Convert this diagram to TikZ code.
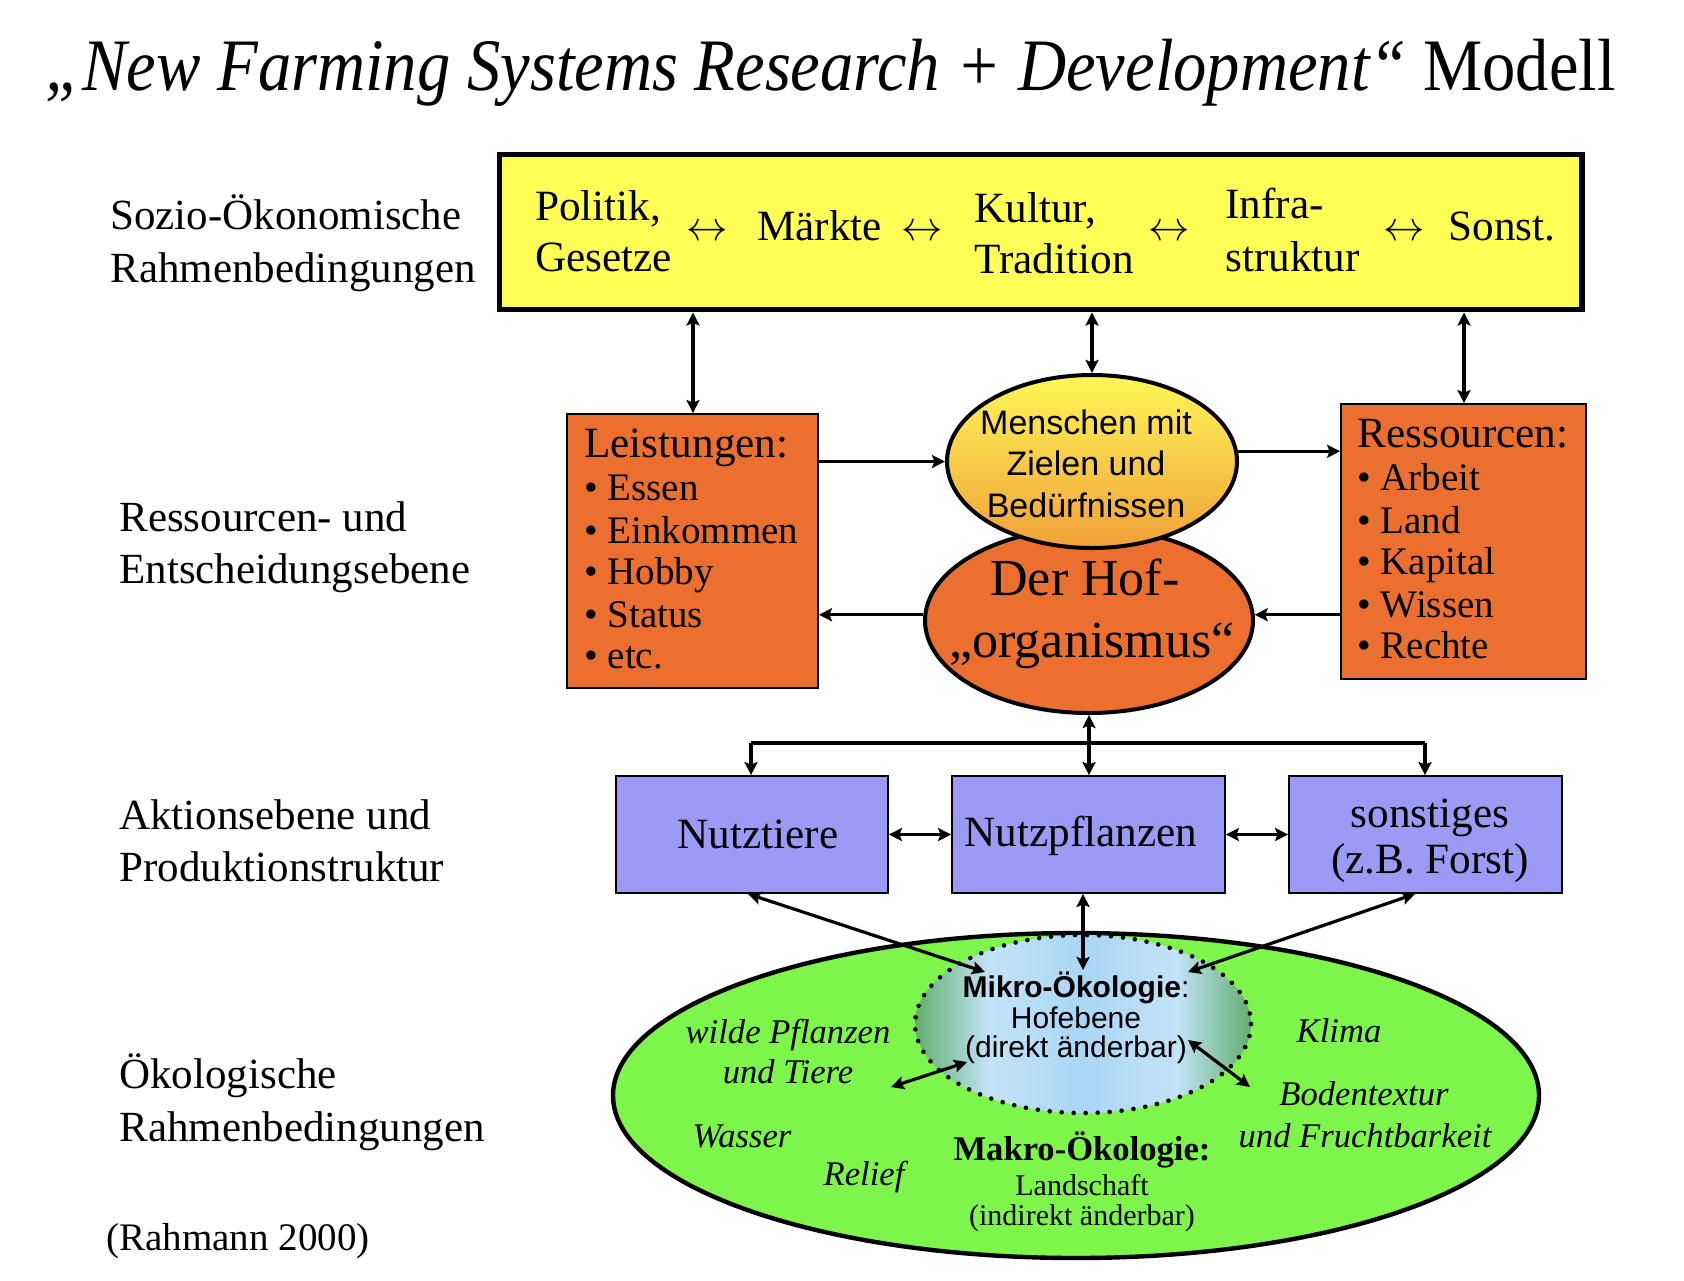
\documentclass[tikz,border=0pt]{standalone}
\usepackage{graphicx}
\usepackage{fontspec}
\setmainfont{Liberation Serif}
\setsansfont{Liberation Sans}
\usetikzlibrary{shapes.geometric,arrows.meta}
\definecolor{yelfill}{HTML}{FFFF55}
\definecolor{orfill}{HTML}{EB7030}
\definecolor{purfill}{HTML}{9B9BF5}
\definecolor{grfill}{HTML}{7DF54B}
\definecolor{mgreen}{HTML}{62AE6E}
\definecolor{mlblue}{HTML}{C2E3F8}
\definecolor{mblue}{HTML}{AAD6F5}
\definecolor{mtop}{HTML}{FFF757}
\definecolor{mbot}{HTML}{F0A038}
\pgfdeclarehorizontalshading{microshade}{100bp}{color(0bp)=(mgreen); color(25bp)=(mgreen); color(36bp)=(mlblue); color(50bp)=(mblue); color(64bp)=(mlblue); color(75bp)=(mgreen); color(100bp)=(mgreen)}
\newcommand\fLab{\fontsize{21.5}{26}\selectfont}
\newcommand\fBox{\fontsize{21.6}{25}\selectfont}
\newcommand\fItem{\fontsize{19.5}{22}\selectfont}
\newcommand\fSans{\sffamily\fontsize{17}{20}\selectfont}
\newcommand\fHof{\fontsize{26}{30}\selectfont}
\newcommand\fMic{\sffamily\fontsize{15}{15}\selectfont}
\newcommand\fIt{\itshape\fontsize{17.3}{19}\selectfont}
\newcommand\fMak{\fontsize{15}{15}\selectfont}
\begin{document}
\begin{tikzpicture}[x=0.5pt,y=-0.5pt,
  tl/.style={inner sep=0pt, anchor=base west},
  tc/.style={inner sep=0pt, anchor=base},
  darr/.style={line width=1.6pt, {Stealth[length=6.5pt,width=6.5pt,inset=1.2pt]}-{Stealth[length=6.5pt,width=6.5pt,inset=1.2pt]}},
  sarr/.style={line width=1.6pt, -{Stealth[length=6.5pt,width=6.5pt,inset=1.2pt]}},
  plainline/.style={line width=2pt},
  orbox/.style={draw=black, line width=0.9pt, fill=orfill, inner sep=0pt},
  purbox/.style={draw=black, line width=0.9pt, fill=purfill, inner sep=0pt, minimum width=136pt, minimum height=58.5pt},
  ell/.style={ellipse, inner sep=0pt, draw=black}
]
\useasboundingbox (0,0) rectangle (1684,1280);
\fill[white] (0,0) rectangle (1684,1280);

% title
\node[tl, font=\fontsize{37}{40}\selectfont] (title) at (45,90) {\scalebox{0.9}[1]{\textit{„New Farming Systems Research + Development“} Modell}};

% left labels
\node[tl, font=\fLab] (la1) at (110,229) {Sozio-Ökonomische};
\node[tl, font=\fLab] (la2) at (110,282) {Rahmenbedingungen};
\node[tl, font=\fLab] (lb1) at (119,531) {Ressourcen- und};
\node[tl, font=\fLab] (lb2) at (119,583) {Entscheidungsebene};
\node[tl, font=\fLab] (lc1) at (119,829) {Aktionsebene und};
\node[tl, font=\fLab] (lc2) at (119,881) {Produktionstruktur};
\node[tl, font=\fLab] (ld1) at (119,1088) {Ökologische};
\node[tl, font=\fLab] (ld2) at (119,1141) {Rahmenbedingungen};
\node[tl, font=\fontsize{19.5}{22}\selectfont] (cite) at (106,1250) {(Rahmann 2000)};

% yellow box
\node[draw=black, line width=2.75pt, fill=yelfill, inner sep=0pt, minimum width=541.25pt, minimum height=77.6pt] (yel) at (1040.75,232.1) {};
\node[tl, font=\fBox] (y1a) at (534.6,220) {Politik,};
\node[tl, font=\fBox] (y1b) at (534.6,271) {Gesetze};
\node[tl, font=\fBox] (ya1) at (686,240) {$\leftrightarrow$};
\node[tl, font=\fBox] (y2) at (757,240) {Märkte};
\node[tl, font=\fBox] (ya2) at (901,240) {$\leftrightarrow$};
\node[tl, font=\fBox] (y3a) at (974,222) {Kultur,};
\node[tl, font=\fBox] (y3b) at (974,273) {Tradition};
\node[tl, font=\fBox] (ya3) at (1148,240) {$\leftrightarrow$};
\node[tl, font=\fBox] (y4a) at (1225,218) {Infra-};
\node[tl, font=\fBox] (y4b) at (1225,271) {struktur};
\node[tl, font=\fBox] (ya4) at (1383,240) {$\leftrightarrow$};
\node[tl, font=\fBox] (y5) at (1448,240) {Sonst.};

% orange boxes
\node[orbox, minimum width=125.5pt, minimum height=137pt] (leist) at (692.5,551) {};
\node[orbox, minimum width=122.5pt, minimum height=137.5pt] (res) at (1463.5,541.5) {};
\node[tl, font=\fBox] (le0) at (584,457) {Leistungen:};
\node[tl, font=\fItem] (le1) at (584,500) {• Essen};
\node[tl, font=\fItem] (le2) at (584,543) {• Einkommen};
\node[tl, font=\fItem] (le3) at (584,584) {• Hobby};
\node[tl, font=\fItem] (le4) at (584,627) {• Status};
\node[tl, font=\fItem] (le5) at (584,668) {• etc.};
\node[tl, font=\fBox] (re0) at (1357,447) {Ressourcen:};
\node[tl, font=\fItem] (re1) at (1357,490) {• Arbeit};
\node[tl, font=\fItem] (re2) at (1357,533) {• Land};
\node[tl, font=\fItem] (re3) at (1357,574) {• Kapital};
\node[tl, font=\fItem] (re4) at (1357,617) {• Wissen};
\node[tl, font=\fItem] (re5) at (1357,658) {• Rechte};

% central ellipses
\node[ell, line width=2pt, fill=orfill, minimum width=164pt, minimum height=92.5pt] (hof) at (1089,620.5) {};
\node[ell, line width=2pt, top color=mtop, bottom color=mbot, minimum width=145pt, minimum height=86.5pt] (mensch) at (1092,461.5) {};
\node[tc, font=\fSans] (m1) at (1086,434) {Menschen mit};
\node[tc, font=\fSans] (m2) at (1086,475) {Zielen und};
\node[tc, font=\fSans] (m3) at (1086,517) {Bedürfnissen};
\node[tc, font=\fHof] (h1) at (1085,595) {Der Hof-};
\node[tc, font=\fHof] (h2) at (1092,657) {„organismus“};

% purple boxes
\node[purbox] (tiere) at (752,834.5) {};
\node[purbox, minimum width=136.5pt] (pflanz) at (1088.5,834.5) {};
\node[purbox, minimum width=136.5pt] (sonst) at (1425.5,834.5) {};
\node[tc, font=\fBox] (p1) at (758,848) {Nutztiere};
\node[tc, font=\fBox] (p2) at (1081,846) {Nutzpflanzen};
\node[tc, font=\fBox] (p3a) at (1430,827) {sonstiges};
\node[tc, font=\fBox] (p3b) at (1430,873) {(z.B. Forst)};

% ecology ellipses
\node[ell, line width=2.2pt, fill=grfill, minimum width=463pt, minimum height=162.5pt] (green) at (1076,1095.5) {};
\node[ellipse, inner sep=0pt, shading=microshade, minimum width=168pt, minimum height=89pt] (micro) at (1083,1024) {};
\draw[line width=2.3pt, line cap=round, dash pattern=on 0pt off 6pt] (micro.center) ellipse[x radius=168, y radius=89];

% connectors
\coordinate (c1) at (693,0);
\coordinate (c3) at (1464,0);
\draw[darr] (yel.south -| c1) -- (leist.north -| c1);
\draw[darr] (yel.south -| mensch.north) -- (mensch.north);
\draw[darr] (yel.south -| c3) -- (res.north -| c3);
\draw[sarr] (mensch.west -| leist.east) -- (mensch.west);
\draw[sarr] (mensch.4) -- (mensch.4 -| res.west);
\draw[sarr] (hof.178) -- (hof.178 -| leist.east);
\draw[sarr] (hof.2 -| res.west) -- (hof.2);

\coordinate (brL) at (751,743);
\coordinate (brR) at (1425,743);
\draw[darr] (hof.south) -- (hof.south |- pflanz.north);
\draw[plainline] (brL) -- (brR);
\draw[sarr] (brL) -- (brL |- tiere.north);
\draw[sarr] (brR) -- (brR |- sonst.north);
\draw[darr] (tiere.east) -- (pflanz.west);
\draw[darr] (pflanz.east) -- (sonst.west);

\coordinate (t1) at (748,0);
\coordinate (t3) at (1415,0);
\coordinate (mk1) at (985,972);
\coordinate (mk2) at (1083,970);
\coordinate (mk3) at (1188,972);
\draw[darr] (t1 |- tiere.south) -- (mk1);
\draw[darr] (pflanz.south -| mk2) -- (mk2);
\draw[darr] (t3 |- sonst.south) -- (mk3);
\coordinate (wa) at (891,1087);
\coordinate (wb) at (967,1062);
\coordinate (ba) at (1188,1040);
\coordinate (bb) at (1250,1087);
\draw[darr] (wa) -- (wb);
\draw[darr] (ba) -- (bb);

% ecology texts
\node[tc, font=\fMic] (mi1) at (1076,997) {\textbf{Mikro-Ökologie}:};
\node[tc, font=\fMic] (mi2) at (1076,1028) {Hofebene};
\node[tc, font=\fMic] (mi3) at (1076,1057) {(direkt änderbar)};
\node[tc, font=\fIt] (g1) at (788,1043) {wilde Pflanzen};
\node[tc, font=\fIt] (g2) at (788,1083) {und Tiere};
\node[tc, font=\fIt] (g3) at (1339,1042) {Klima};
\node[tc, font=\fIt] (g4) at (1364,1105) {Bodentextur};
\node[tc, font=\fIt] (g5) at (1365,1147) {und Fruchtbarkeit};
\node[tc, font=\fIt] (g6) at (742,1147) {Wasser};
\node[tc, font=\fIt] (g7) at (864,1185) {Relief};
\node[tc, font=\bfseries\fontsize{17.3}{19}\selectfont] (ma1) at (1082,1160) {Makro-Ökologie:};
\node[tc, font=\fMak] (ma2) at (1082,1195) {Landschaft};
\node[tc, font=\fMak] (ma3) at (1082,1225) {(indirekt änderbar)};
\end{tikzpicture}
\end{document}
